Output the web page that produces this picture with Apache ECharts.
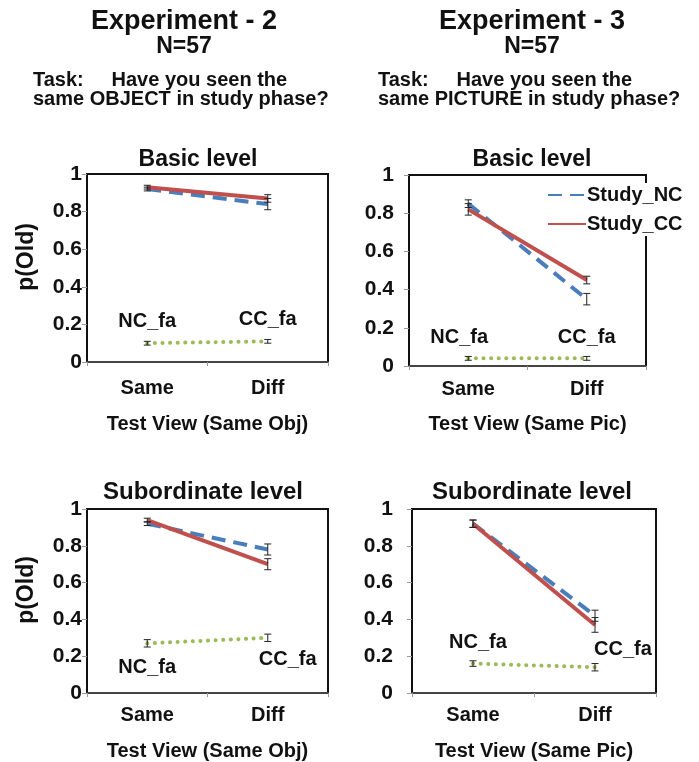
<!DOCTYPE html>
<html>
<head>
<meta charset="utf-8">
<script src="https://cdn.jsdelivr.net/npm/echarts@6/dist/echarts.min.js"></script>
<style>html,body{margin:0;padding:0;background:#fff}#c{width:699px;height:762px}</style>
</head>
<body>
<div id="c"></div>
<script>
// ---- data ----
var categories = ['Same', 'Diff'];
var yTicks = [0, 0.2, 0.4, 0.6, 0.8, 1];
var seriesNames = ['Study_NC', 'Study_CC', 'FA'];
var faLabels = ['NC_fa', 'CC_fa'];

var exp2BasicNC = [0.92, 0.84];   var exp2BasicNCErr = [0.01, 0.03];
var exp2BasicCC = [0.93, 0.87];   var exp2BasicCCErr = [0.01, 0.02];
var exp2BasicFA = [0.10, 0.11];   var exp2BasicFAErr = [0.01, 0.01];

var exp3BasicNC = [0.85, 0.35];   var exp3BasicNCErr = [0.02, 0.03];
var exp3BasicCC = [0.82, 0.45];   var exp3BasicCCErr = [0.03, 0.02];
var exp3BasicFA = [0.04, 0.04];   var exp3BasicFAErr = [0.01, 0.01];

var exp2SubNC = [0.92, 0.78];     var exp2SubNCErr = [0.01, 0.03];
var exp2SubCC = [0.94, 0.70];     var exp2SubCCErr = [0.01, 0.03];
var exp2SubFA = [0.27, 0.30];     var exp2SubFAErr = [0.02, 0.02];

var exp3SubNC = [0.92, 0.42];     var exp3SubNCErr = [0.02, 0.03];
var exp3SubCC = [0.92, 0.37];     var exp3SubCCErr = [0.02, 0.04];
var exp3SubFA = [0.16, 0.14];     var exp3SubFAErr = [0.015, 0.02];

// ---- layout / styles ----
var FONT = '"Liberation Sans", Arial, sans-serif';
var colNC = '#4a7ebb', colCC = '#c0504d', colFA = '#9bbb59';

var panels = [
  {grid:{left:87, top:174, width:241, height:188}, yName:'p(Old)', xName:'Test View (Same Obj)', labMargin:5, xMargin:16, xGap:52,
   nc:exp2BasicNC, ncE:exp2BasicNCErr, cc:exp2BasicCC, ccE:exp2BasicCCErr, fa:exp2BasicFA, faE:exp2BasicFAErr,
   faLab:[{position:'top', offset:[0,-6]},{position:'top', offset:[0,-6]}]},
  {grid:{left:409, top:175, width:237, height:191}, yName:'', xName:'Test View (Same Pic)', labMargin:15, xMargin:13, xGap:48,
   nc:exp3BasicNC, ncE:exp3BasicNCErr, cc:exp3BasicCC, ccE:exp3BasicCCErr, fa:exp3BasicFA, faE:exp3BasicFAErr,
   faLab:[{position:'top', offset:[-9,-5]},{position:'top', offset:[0,-5]}]},
  {grid:{left:87, top:509, width:241, height:188}, yName:'p(Old)', xName:'Test View (Same Obj)', labMargin:5, xMargin:12, xGap:48,
   nc:exp2SubNC, ncE:exp2SubNCErr, cc:exp2SubCC, ccE:exp2SubCCErr, fa:exp2SubFA, faE:exp2SubFAErr,
   faLab:[{position:'bottom', offset:[0,9]},{position:'bottom', offset:[20,6]}]},
  {grid:{left:412, top:509, width:244, height:187}, yName:'', xName:'Test View (Same Pic)', labMargin:19, xMargin:12, xGap:48,
   nc:exp3SubNC, ncE:exp3SubNCErr, cc:exp3SubCC, ccE:exp3SubCCErr, fa:exp3SubFA, faE:exp3SubFAErr,
   faLab:[{position:'top', offset:[5,-6]},{position:'top', offset:[28,-2]}]}
];

var grids = [], xAxes = [], yAxes = [], series = [];
panels.forEach(function (p, i) {
  grids.push(Object.assign({show:true, borderColor:'#111', borderWidth:2, backgroundColor:'#fff'}, p.grid));
  xAxes.push({type:'category', gridIndex:i, data:categories, boundaryGap:true,
    axisLine:{lineStyle:{color:'#555', width:1.5}}, axisTick:{show:true, length:4, lineStyle:{color:'#999'}},
    axisLabel:{color:'#111', fontFamily:FONT, fontWeight:'bold', fontSize:20, margin:p.xMargin},
    name:p.xName, nameLocation:'middle', nameGap:p.xGap,
    nameTextStyle:{color:'#111', fontFamily:FONT, fontWeight:'bold', fontSize:20}});
  yAxes.push({type:'value', gridIndex:i, min:yTicks[0], max:yTicks[yTicks.length-1], interval:0.2,
    splitLine:{show:false}, axisLine:{show:true, lineStyle:{color:'#111', width:2}},
    axisTick:{show:true, length:5, lineStyle:{color:'#999'}},
    axisLabel:{color:'#111', fontFamily:FONT, fontWeight:'bold', fontSize:21, margin:p.labMargin},
    name:p.yName, nameLocation:'middle', nameRotate:90, nameGap:49,
    nameTextStyle:{color:'#111', fontFamily:FONT, fontWeight:'bold', fontSize:23, padding:[0,0,0,22]}});
  series.push({name:seriesNames[0], type:'line', xAxisIndex:i, yAxisIndex:i, data:p.nc, symbol:'none',
    lineStyle:{color:colNC, width:4, type:[14,8]}, itemStyle:{color:colNC}, z:3});
  series.push({name:seriesNames[1], type:'line', xAxisIndex:i, yAxisIndex:i, data:p.cc, symbol:'none',
    lineStyle:{color:colCC, width:4}, itemStyle:{color:colCC}, z:4});
  series.push({name:seriesNames[2], type:'line', xAxisIndex:i, yAxisIndex:i, symbol:'circle', symbolSize:1, showSymbol:true,
    data:p.fa.map(function (v, k) {
      return {value:v, label:Object.assign({show:true, formatter:faLabels[k], color:'#111',
        fontFamily:FONT, fontWeight:'bold', fontSize:20}, p.faLab[k])};
    }),
    lineStyle:{color:colFA, width:4, type:[0.1,7.5], cap:'round'}, itemStyle:{color:colFA}, z:3});
  var errData = [];
  [[p.nc,p.ncE],[p.cc,p.ccE],[p.fa,p.faE]].forEach(function (pair) {
    pair[0].forEach(function (v, k) { errData.push([k, v - pair[1][k], v + pair[1][k]]); });
  });
  series.push({type:'custom', xAxisIndex:i, yAxisIndex:i, data:errData, z:5, silent:true,
    renderItem:function (params, api) {
      var lo = api.coord([api.value(0), api.value(1)]);
      var hi = api.coord([api.value(0), api.value(2)]);
      var w = 3.5, st = {stroke:'#222', lineWidth:1};
      return {type:'group', children:[
        {type:'line', shape:{x1:lo[0], y1:lo[1], x2:hi[0], y2:hi[1]}, style:st},
        {type:'line', shape:{x1:lo[0]-w, y1:lo[1], x2:lo[0]+w, y2:lo[1]}, style:st},
        {type:'line', shape:{x1:hi[0]-w, y1:hi[1], x2:hi[0]+w, y2:hi[1]}, style:st}
      ]};
    }});
});

function txt(t, x, y, size, align) {
  return {type:'text', x:x, y:y, silent:true,
    style:{text:t, fill:'#111', font:'bold ' + size + 'px ' + FONT, align:align || 'center', verticalAlign:'middle'}};
}

var option = {
  backgroundColor:'#fff',
  animation:false,
  grid:grids, xAxis:xAxes, yAxis:yAxes, series:series,
  legend:{data:['Study_NC','Study_CC'], orient:'vertical', left:545, top:183, itemGap:9,
    itemWidth:38, itemHeight:4, backgroundColor:'#fff', padding:[2,2,2,2],
    itemStyle:{opacity:0},
    textStyle:{color:'#111', fontFamily:FONT, fontWeight:'bold', fontSize:20, padding:[0,0,0,-4]}},
  graphic:[
    txt('Experiment - 2', 184, 22, 27), txt('N=57', 184, 47, 23),
    txt('Task:     Have you seen the', 33, 80, 20, 'left'),
    txt('same OBJECT in study phase?', 33, 99, 20, 'left'),
    txt('Experiment - 3', 532, 22, 27), txt('N=57', 532, 47, 23),
    txt('Task:     Have you seen the', 378, 80, 20, 'left'),
    txt('same PICTURE in study phase?', 378, 99, 20, 'left'),
    txt('Basic level', 198, 160, 23), txt('Basic level', 532, 160, 23),
    txt('Subordinate level', 203, 492, 24), txt('Subordinate level', 532, 492, 24)
  ]
};
var chart = echarts.init(document.getElementById('c'));
chart.setOption(option);
</script>
</body>
</html>
